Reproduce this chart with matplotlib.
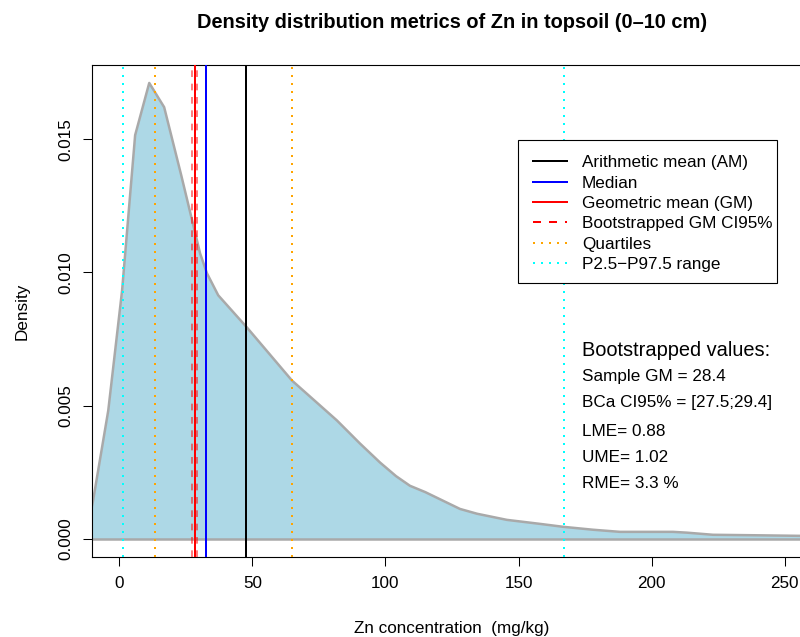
import matplotlib.pyplot as plt
from matplotlib.patches import Rectangle

plt.rcParams['font.family'] = ['Liberation Sans', 'DejaVu Sans']

# density curve
dens_x = [-10.2, -9.8, -4.1, 1.1, 6.0, 11.3, 16.9, 23.3, 30.4, 33.0, 37.2, 48.0,
          64.9, 81.8, 90.5, 98.0, 104.0, 109.2, 115.0, 121.6, 128.0, 134.4, 145.6,
          158.0, 166.7, 177.9, 188.1, 208.0, 213.2, 223.0, 240.6, 255.6, 260.5]
dens_y = [0.00124, 0.00143, 0.00481, 0.00932, 0.01515, 0.01711, 0.0162, 0.01365,
          0.01071, 0.00996, 0.00914, 0.00793, 0.00594, 0.00444, 0.00357, 0.00286,
          0.00235, 0.00199, 0.00175, 0.00143, 0.00112, 0.00094, 0.00071, 0.00056,
          0.00045, 0.00034, 0.00026, 0.00026, 0.00023, 0.00015, 0.00013, 0.00011,
          0.00011]

am = 47.7
median = 32.7
gm = 28.4
gm_ci = [27.5, 29.4]
quartiles = [13.4, 64.9]
p_range = [1.6, 167.2]

legend_labels = ["Arithmetic mean (AM)", "Median", "Geometric mean (GM)",
                 "Bootstrapped GM CI95%", "Quartiles", "P2.5\u2212P97.5 range"]
stats_title = "Bootstrapped values:"
stats_lines = ["Sample GM = 28.4", "BCa CI95% = [27.5;29.4]", "LME= 0.88",
               "UME= 1.02", "RME= 3.3 %"]

W, H = 800, 637
fig = plt.figure(figsize=(W / 100, H / 100), dpi=100)
ax = fig.add_axes([92 / W, 1 - 557 / H, (812 - 92) / W, (557 - 65) / H])

# px -> axes fraction helpers
def fx(px):
    return (px - 92) / 720

def fy(py):
    return (557 - py) / 492

lw = 1.44
ax.fill_between(dens_x, 0, dens_y, color='lightblue', lw=0, zorder=1)
ax.plot(dens_x, dens_y, color='darkgray', lw=1.8, zorder=2)
ax.axhline(0, color='darkgray', lw=1.8, zorder=2)

h_am = ax.axvline(am, color='black', lw=lw, zorder=3)
h_med = ax.axvline(median, color='blue', lw=lw, zorder=3)
for v in gm_ci:
    ax.axvline(v, color='red', lw=1.2, alpha=0.6, linestyle=(0, (4, 4)), zorder=3)
h_gm = ax.axvline(gm, color='red', lw=lw, zorder=3)
h_q = None
for v in quartiles:
    h_q = ax.axvline(v, color='orange', lw=lw, linestyle=(0, (1, 3)), zorder=3)
h_p = None
for v in p_range:
    h_p = ax.axvline(v, color='cyan', lw=lw, linestyle=(0, (1, 3)), zorder=3)

ax.set_xlim(-10.2, 260.2)
ax.set_ylim(-0.000684, 0.017784)
ax.set_xticks([0, 50, 100, 150, 200, 250])
ax.set_yticks([0.0, 0.005, 0.010, 0.015])
ax.set_yticklabels(["0.000", "0.005", "0.010", "0.015"])
ax.tick_params(direction='out', length=6.5, width=0.75, pad=7, labelsize=12.3)
for t in ax.get_yticklabels():
    t.set_rotation(90)
    t.set_va('center')
for s in ax.spines.values():
    s.set_linewidth(0.8)

ax.set_xlabel("Zn concentration  (mg/kg)", fontsize=12.3)
ax.xaxis.set_label_coords(0.5, fy(628))
ax.xaxis.label.set_va('center')
ax.set_ylabel("Density", fontsize=12.3)
ax.yaxis.set_label_coords(fx(22), 0.5)
ax.yaxis.label.set_va('center')

fig.text(452 / W, 1 - 22 / H,
         "Density distribution metrics of Zn in topsoil (0\u201310 cm)",
         ha='center', va='center', fontsize=14.4, fontweight='bold')

# legend box drawn separately so its size matches
ax.add_patch(Rectangle((fx(518), fy(283)), fx(777) - fx(518), fy(140) - fy(283),
                       transform=ax.transAxes, facecolor='white', edgecolor='black',
                       lw=0.8, zorder=4))
h_ci_leg = plt.Line2D([], [], color='red', lw=lw, linestyle=(0, (4, 4)))
leg = ax.legend([h_am, h_med, h_gm, h_ci_leg, h_q, h_p], legend_labels,
                loc='upper left', bbox_to_anchor=(fx(518), fy(140)),
                borderaxespad=0, frameon=False,
                fontsize=12.3, handlelength=1.95, handletextpad=0.9,
                labelspacing=0.315, borderpad=0.89)
leg.set_zorder(5)

tx = fx(582)
ax.text(tx, fy(350), stats_title, transform=ax.transAxes,
        fontsize=14.4, va='center', ha='left')
for line, py in zip(stats_lines, [377, 403, 431, 457, 483]):
    ax.text(tx, fy(py), line, transform=ax.transAxes,
            fontsize=12.3, va='center', ha='left')

fig.savefig("out.png", dpi=100)
